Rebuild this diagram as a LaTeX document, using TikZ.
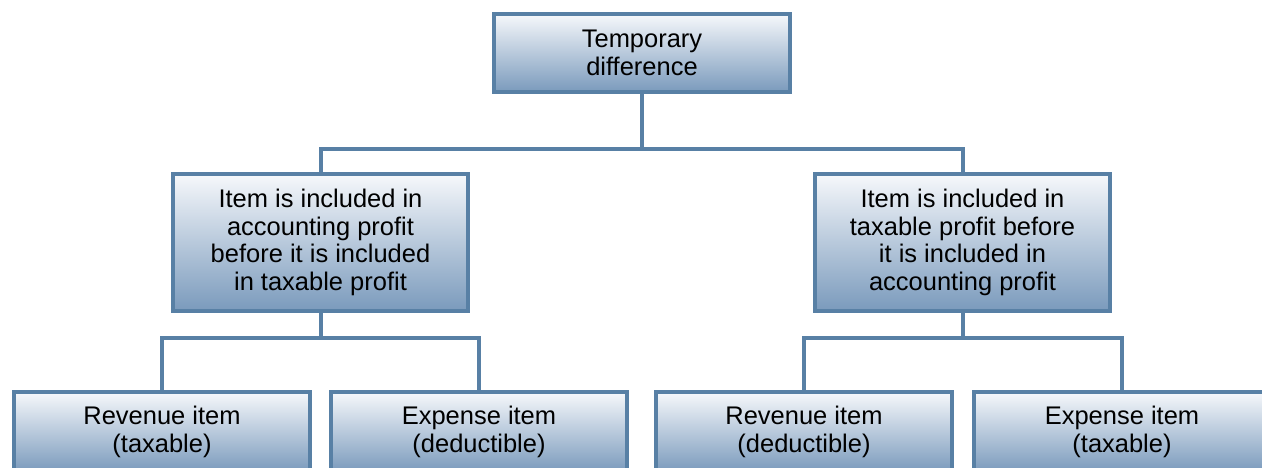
\documentclass[tikz,border=0pt]{standalone}
\usepackage{fontspec}
\setmainfont{Liberation Sans}
\usepackage{tikz}
\definecolor{boxedge}{RGB}{88,128,165}
\definecolor{boxtop}{RGB}{246,248,251}
\definecolor{boxbottom}{RGB}{122,154,188}
\tikzset{
  diffbox/.style={draw=boxedge, line width=0.08cm, top color=boxtop, bottom color=boxbottom,
    align=center, inner sep=0pt, font=\fontsize{14.5}{15.7}\selectfont},
  toplevel/.style={diffbox, minimum width=5.92cm, minimum height=1.56cm},
  midlevel/.style={diffbox, minimum width=5.9cm, minimum height=2.74cm},
  leaflevel/.style={diffbox, minimum width=5.92cm, minimum height=1.6cm},
  link/.style={draw=boxedge, line width=0.08cm}
}

\begin{document}
\begin{tikzpicture}[x=0.02cm, y=-0.02cm]
\useasboundingbox (0,0) rectangle (1262,467);
\clip (0,0) rectangle (1262,467);
\node[toplevel] (temp) at (642,53) {Temporary\\difference};
\node[midlevel] (acc) at (320.5,242.5) {Item is included in\\accounting profit\\before it is included\\in taxable profit};
\node[midlevel] (tax) at (962.5,242.5) {Item is included in\\taxable profit before\\it is included in\\accounting profit};
\node[leaflevel] (revtax) at (162,432) {Revenue item\\(taxable)};
\node[leaflevel] (expded) at (479,432) {Expense item\\(deductible)};
\node[leaflevel] (revded) at (804,432) {Revenue item\\(deductible)};
\node[leaflevel] (exptax) at (1122,432) {Expense item\\(taxable)};
\draw[link] (temp.south) -- ++(0,55) -| (acc.north);
\draw[link] (temp.south) -- ++(0,55) -| (tax.north);
\draw[link] (acc.south) -- ++(0,25) -| (revtax.north);
\draw[link] (acc.south) -- ++(0,25) -| (expded.north);
\draw[link] (tax.south) -- ++(0,25) -| (revded.north);
\draw[link] (tax.south) -- ++(0,25) -| (exptax.north);
\end{tikzpicture}
\end{document}
